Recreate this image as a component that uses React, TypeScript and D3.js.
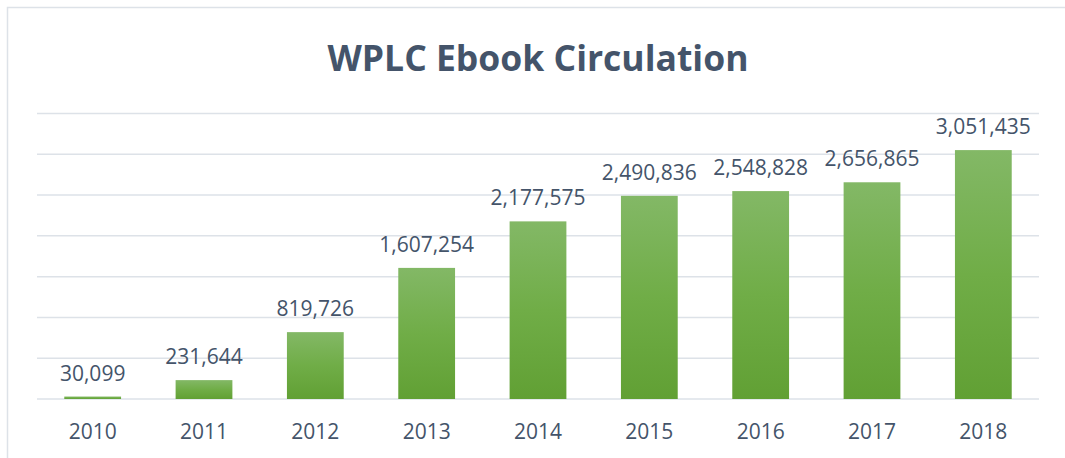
import React from "react";
import * as d3 from "d3";

const years = ["2010", "2011", "2012", "2013", "2014", "2015", "2016", "2017", "2018"];
const circulation = [30099, 231644, 819726, 1607254, 2177575, 2490836, 2548828, 2656865, 3051435];
const gridTicks = [0, 500000, 1000000, 1500000, 2000000, 2500000, 3000000, 3500000];
const title = "WPLC Ebook Circulation";

export default function App() {
  const W = 1065, H = 458;
  const left = 37, right = 1039, top = 113.5, bottom = 399;
  const x = d3.scaleBand<string>().domain(years).range([left, right]).paddingInner(0.49).paddingOuter(0.245);
  const y = d3.scaleLinear().domain([0, 3500000]).range([bottom, top]);
  const fmt = d3.format(",");
  const textColor = "#44546A";
  const font = "'Open Sans', 'Liberation Sans', sans-serif";
  return (
    <svg width={W} height={H} style={{ position: "absolute", left: 0, top: 0, background: "#fff" }}>
      <defs>
        <linearGradient id="barGrad" x1="0" y1="0" x2="0" y2="1">
          <stop offset="0%" stopColor="#83B866" />
          <stop offset="50%" stopColor="#70AD47" />
          <stop offset="100%" stopColor="#61A034" />
        </linearGradient>
      </defs>
      <rect x={0} y={0} width={W} height={H} fill="#fff" />
      <rect x={7.5} y={7.5} width={W + 20} height={H + 20} fill="none" stroke="#dde2e8" strokeWidth={1.5} />
      <text x={538} y={71} textAnchor="middle" fill={textColor} fontFamily={font} fontWeight={700} fontSize={35.5}>
        {title}
      </text>
      {gridTicks.map((t) => (
        <line key={t} x1={left} x2={right} y1={y(t)} y2={y(t)} stroke="#dde2e8" strokeWidth={1.5} />
      ))}
      {years.map((yr, i) => (
        <g key={yr}>
          <rect x={x(yr)} y={y(circulation[i])} width={x.bandwidth()} height={bottom - y(circulation[i])} fill="url(#barGrad)" />
          <text x={(x(yr) as number) + x.bandwidth() / 2} y={y(circulation[i]) - 16} textAnchor="middle" fill={textColor} fontFamily={font} fontSize={21}>
            {fmt(circulation[i])}
          </text>
          <text x={(x(yr) as number) + x.bandwidth() / 2} y={439} textAnchor="middle" fill={textColor} fontFamily={font} fontSize={21}>
            {yr}
          </text>
        </g>
      ))}
    </svg>
  );
}
